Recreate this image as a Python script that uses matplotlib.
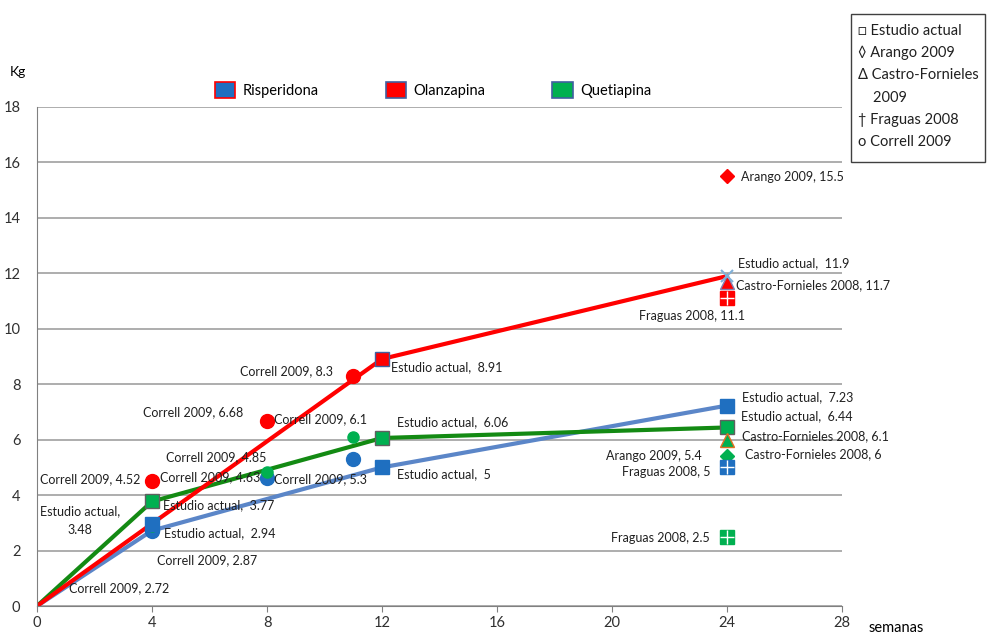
import matplotlib.pyplot as plt
from matplotlib.patches import Patch, Rectangle

plt.rcParams['font.family'] = ['Lato', 'DejaVu Sans']

# weeks on the x axis
weeks_line = [0, 4, 12, 24]

# Estudio actual lines (kg)
risp_line = [0, 2.72, 5, 7.23]
olan_line = [0, 2.97, 8.91, 11.9]
quet_line = [0, 3.77, 6.06, 6.44]

# Correll 2009 points (weeks, kg)
correll_weeks = [4, 8, 11]
correll_risp = [2.72, 4.63, 5.3]
correll_olan = [4.52, 6.68, 8.3]
correll_quet = [2.87, 4.85, 6.1]

# Estudio actual squares
est_weeks = [4, 12, 24]
est_risp = [2.94, 5, 7.23]
est_olan_weeks = [12]
est_olan = [8.91]
est_quet = [3.77, 6.06, 6.44]

# other studies at 24 weeks
arango = {'olan': 15.5, 'quet': 5.4}
castro = {'olan': 11.7, 'quet': 6.1, 'risp': 6}
fraguas = {'olan': 11.1, 'risp': 5, 'quet': 2.5}

BLUE = '#1F6FC0'
BLUE_LINE = '#5B86C8'
RED = '#FF0000'
GREEN = '#00B050'
GREEN_LINE = '#138A13'

fig = plt.figure(figsize=(9.9, 6.35), dpi=100)
ax = fig.add_axes([37 / 990, 1 - 606 / 635, (842 - 37) / 990, (606 - 107) / 635])

ax.plot(weeks_line, risp_line, color=BLUE_LINE, lw=3, zorder=2)
ax.plot(weeks_line, quet_line, color=GREEN_LINE, lw=3, zorder=2)
ax.plot(weeks_line, olan_line, color=RED, lw=3, zorder=2)

ax.plot(correll_weeks, correll_olan, 'o', color=RED, ms=10, zorder=3)
ax.plot(correll_weeks, correll_risp, 'o', color=BLUE, ms=10, zorder=3)
ax.plot(correll_weeks, correll_quet, 'o', color=GREEN, ms=8, zorder=3)

ax.plot(est_weeks, est_risp, 's', color=BLUE, ms=10, zorder=3)
ax.plot(est_olan_weeks, est_olan, 's', color=RED, mec='#4060A0', ms=10, zorder=3)
ax.plot(est_weeks, est_quet, 's', color=GREEN, mec='#606060', ms=10, zorder=3)
ax.plot([24], [olan_line[-1]], 'x', color='#7FB0D8', ms=8, mew=1.5, zorder=4)

ax.plot([24], [arango['olan']], 'D', color=RED, ms=7, zorder=3)
ax.plot([24], [arango['quet']], 'D', color=GREEN, ms=7, zorder=3)
ax.plot([24], [castro['olan']], '^', color=RED, mec='#8080B0', ms=10, zorder=3)
ax.plot([24], [castro['risp']], '^', color=GREEN, mec='#E07020', ms=10, zorder=3)
for key, c in [('olan', RED), ('risp', BLUE), ('quet', GREEN)]:
    ax.plot([24], [fraguas[key]], 's', color=c, ms=10, zorder=3)
    ax.plot([24], [fraguas[key]], '+', color='white', ms=10, mew=1, zorder=4)

labels = [
    (4, 4.52, 'Correll 2009, 4.52', (-12, 2), 'right'),
    (8, 4.63, 'Correll 2009, 4.63', (-7, 0), 'right'),
    (8, 6.68, 'Correll 2009, 6.68', (-24, 9), 'right'),
    (11, 6.1, 'Correll 2009, 6.1', (-33, 18), 'center'),
    (8, 4.85, 'Correll 2009, 4.85', (-1, 14), 'right'),
    (11, 5.3, 'Correll 2009, 5.3', (-33, -20), 'center'),
    (11, 8.3, 'Correll 2009, 8.3', (-20, 5), 'right'),
    (12, 8.91, 'Estudio actual,  8.91', (9, -8), 'left'),
    (12, 6.06, 'Estudio actual,  6.06', (15, 16), 'left'),
    (12, 5, 'Estudio actual,  5', (15, -7), 'left'),
    (4, 3.77, 'Estudio actual,  3.77', (11, -4), 'left'),
    (4, 2.94, 'Estudio actual,  2.94', (12, -9), 'left'),
    (4, 3.48, 'Estudio actual,\n3.48', (-72, -11), 'center'),
    (4, 2.87, 'Correll 2009, 2.87', (55, -34), 'center'),
    (4, 2.72, 'Correll 2009, 2.72', (-33, -58), 'center'),
    (24, 7.23, 'Estudio actual,  7.23', (15, 8), 'left'),
    (24, 6.44, 'Estudio actual,  6.44', (14, 11), 'left'),
    (24, 6.1, 'Castro-Fornieles 2008, 6.1', (15, 1), 'left'),
    (24, 6, 'Castro-Fornieles 2008, 6', (18, -14), 'left'),
    (24, 5.4, 'Arango 2009, 5.4', (-25, 0), 'right'),
    (24, 5, 'Fraguas 2008, 5', (-17, -5), 'right'),
    (24, 2.5, 'Fraguas 2008, 2.5', (-17, -1), 'right'),
    (24, 15.5, 'Arango 2009, 15.5', (14, -1), 'left'),
    (24, 11.9, 'Estudio actual,  11.9', (11, 13), 'left'),
    (24, 11.7, 'Castro-Fornieles 2008, 11.7', (9, -4), 'left'),
    (24, 11.1, 'Fraguas 2008, 11.1', (-35, -18), 'center'),
]
for x, y, txt, off, ha in labels:
    ax.annotate(txt, (x, y), xytext=off, textcoords='offset pixels',
                ha=ha, va='center', fontsize=9, color='#202020',
                linespacing=1.6, zorder=5)

ax.set_xlim(0, 28)
ax.set_ylim(0, 18)
ax.set_xticks(range(0, 29, 4))
ax.set_yticks(range(0, 19, 2))
ax.tick_params(axis='both', labelsize=10.5, colors='#303030')
ax.tick_params(axis='y', length=0, pad=12)
ax.tick_params(axis='x', length=4, direction='out', color='#808080')
ax.grid(axis='y', color='#A0A0A0', lw=1.2)
ax.set_axisbelow(True)
for s in ['top', 'right']:
    ax.spines[s].set_visible(False)
ax.spines['left'].set_color('#808080')
ax.spines['bottom'].set_color('#808080')

fig.text(18 / 990, 1 - 72 / 635, 'Kg', fontsize=10, ha='center', va='center')
fig.text(896 / 990, 1 - 628 / 635, 'semanas', fontsize=10.5, ha='center', va='center')

handles = [
    Patch(facecolor=BLUE, edgecolor=RED, lw=1.2, label='Risperidona'),
    Patch(facecolor=RED, edgecolor='#4060A0', lw=1.2, label='Olanzapina'),
    Patch(facecolor=GREEN, edgecolor='#4060A0', lw=1.2, label='Quetiapina'),
]
fig.legend(handles=handles, loc='center', bbox_to_anchor=(433 / 990, 1 - 90 / 635),
           ncol=3, frameon=False, fontsize=10.5, columnspacing=4.6,
           handlelength=1.4, handleheight=1.4, handletextpad=0.5)

fig.patches.append(Rectangle((851 / 990, 1 - 162 / 635), 134 / 990, 148 / 635,
                             transform=fig.transFigure, fill=False,
                             edgecolor='#404040', lw=1))
box_lines = ['□ Estudio actual', '◊ Arango 2009', 'Δ Castro-Fornieles',
             '    2009', '† Fraguas 2008', 'o Correll 2009']
for i, t in enumerate(box_lines):
    fig.text(858 / 990, 1 - (31 + 22.2 * i) / 635, t, fontsize=10.5,
             ha='left', va='center', color='#202020')

fig.savefig('out.png', dpi=100)
